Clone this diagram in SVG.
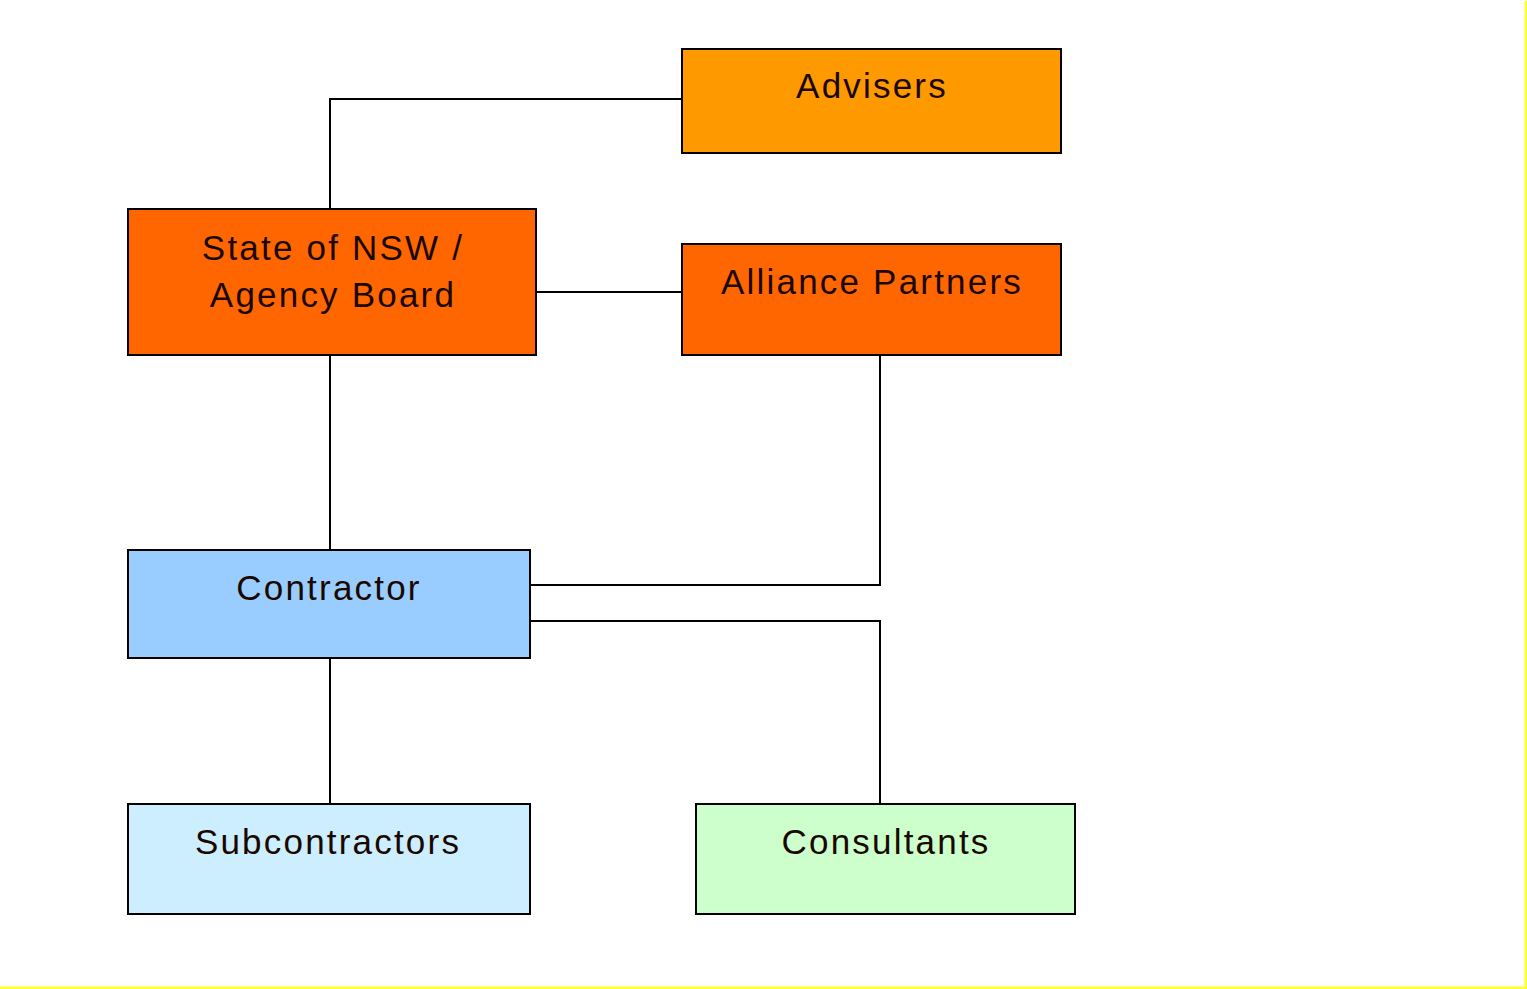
<svg xmlns="http://www.w3.org/2000/svg" width="1527" height="989" viewBox="0 0 1527 989">
<style>
.box{stroke:#000;stroke-width:2}
.lbl{font-family:"Liberation Sans",Arial,sans-serif;font-size:35px;letter-spacing:2.2px;fill:#1a0800;text-anchor:middle}
.con{fill:none;stroke:#000;stroke-width:2}
</style>
<rect x="0" y="0" width="1527" height="989" fill="#fff"/>
<path d="M1526 1V988H0" fill="none" stroke="#ffff33" stroke-width="3"/>
<g id="connectors">
<polyline class="con" points="330,209 330,99 682,99"/>
<line class="con" x1="536" y1="292" x2="682" y2="292"/>
<line class="con" x1="330" y1="355" x2="330" y2="550"/>
<polyline class="con" points="880,355 880,585 530,585" stroke-width="3"/>
<polyline class="con" points="530,621 880,621 880,804"/>
<line class="con" x1="330" y1="658" x2="330" y2="804"/>
</g>
<g id="advisers">
<rect class="box" x="682" y="49" width="379" height="104" fill="#ff9900"/>
<text class="lbl" x="872" y="98">Advisers</text>
</g>
<g id="state">
<rect class="box" x="128" y="209" width="408" height="146" fill="#ff6600"/>
<text class="lbl" x="333" y="260">State of NSW /</text>
<text class="lbl" x="333" y="307">Agency Board</text>
</g>
<g id="alliance">
<rect class="box" x="682" y="244" width="379" height="111" fill="#ff6600"/>
<text class="lbl" x="872" y="294">Alliance Partners</text>
</g>
<g id="contractor">
<rect class="box" x="128" y="550" width="402" height="108" fill="#99ccff"/>
<text class="lbl" x="329" y="600">Contractor</text>
</g>
<g id="subcontractors">
<rect class="box" x="128" y="804" width="402" height="110" fill="#cceeff"/>
<text class="lbl" x="328" y="854">Subcontractors</text>
</g>
<g id="consultants">
<rect class="box" x="696" y="804" width="379" height="110" fill="#ccffcc"/>
<text class="lbl" x="886" y="854">Consultants</text>
</g>
</svg>
